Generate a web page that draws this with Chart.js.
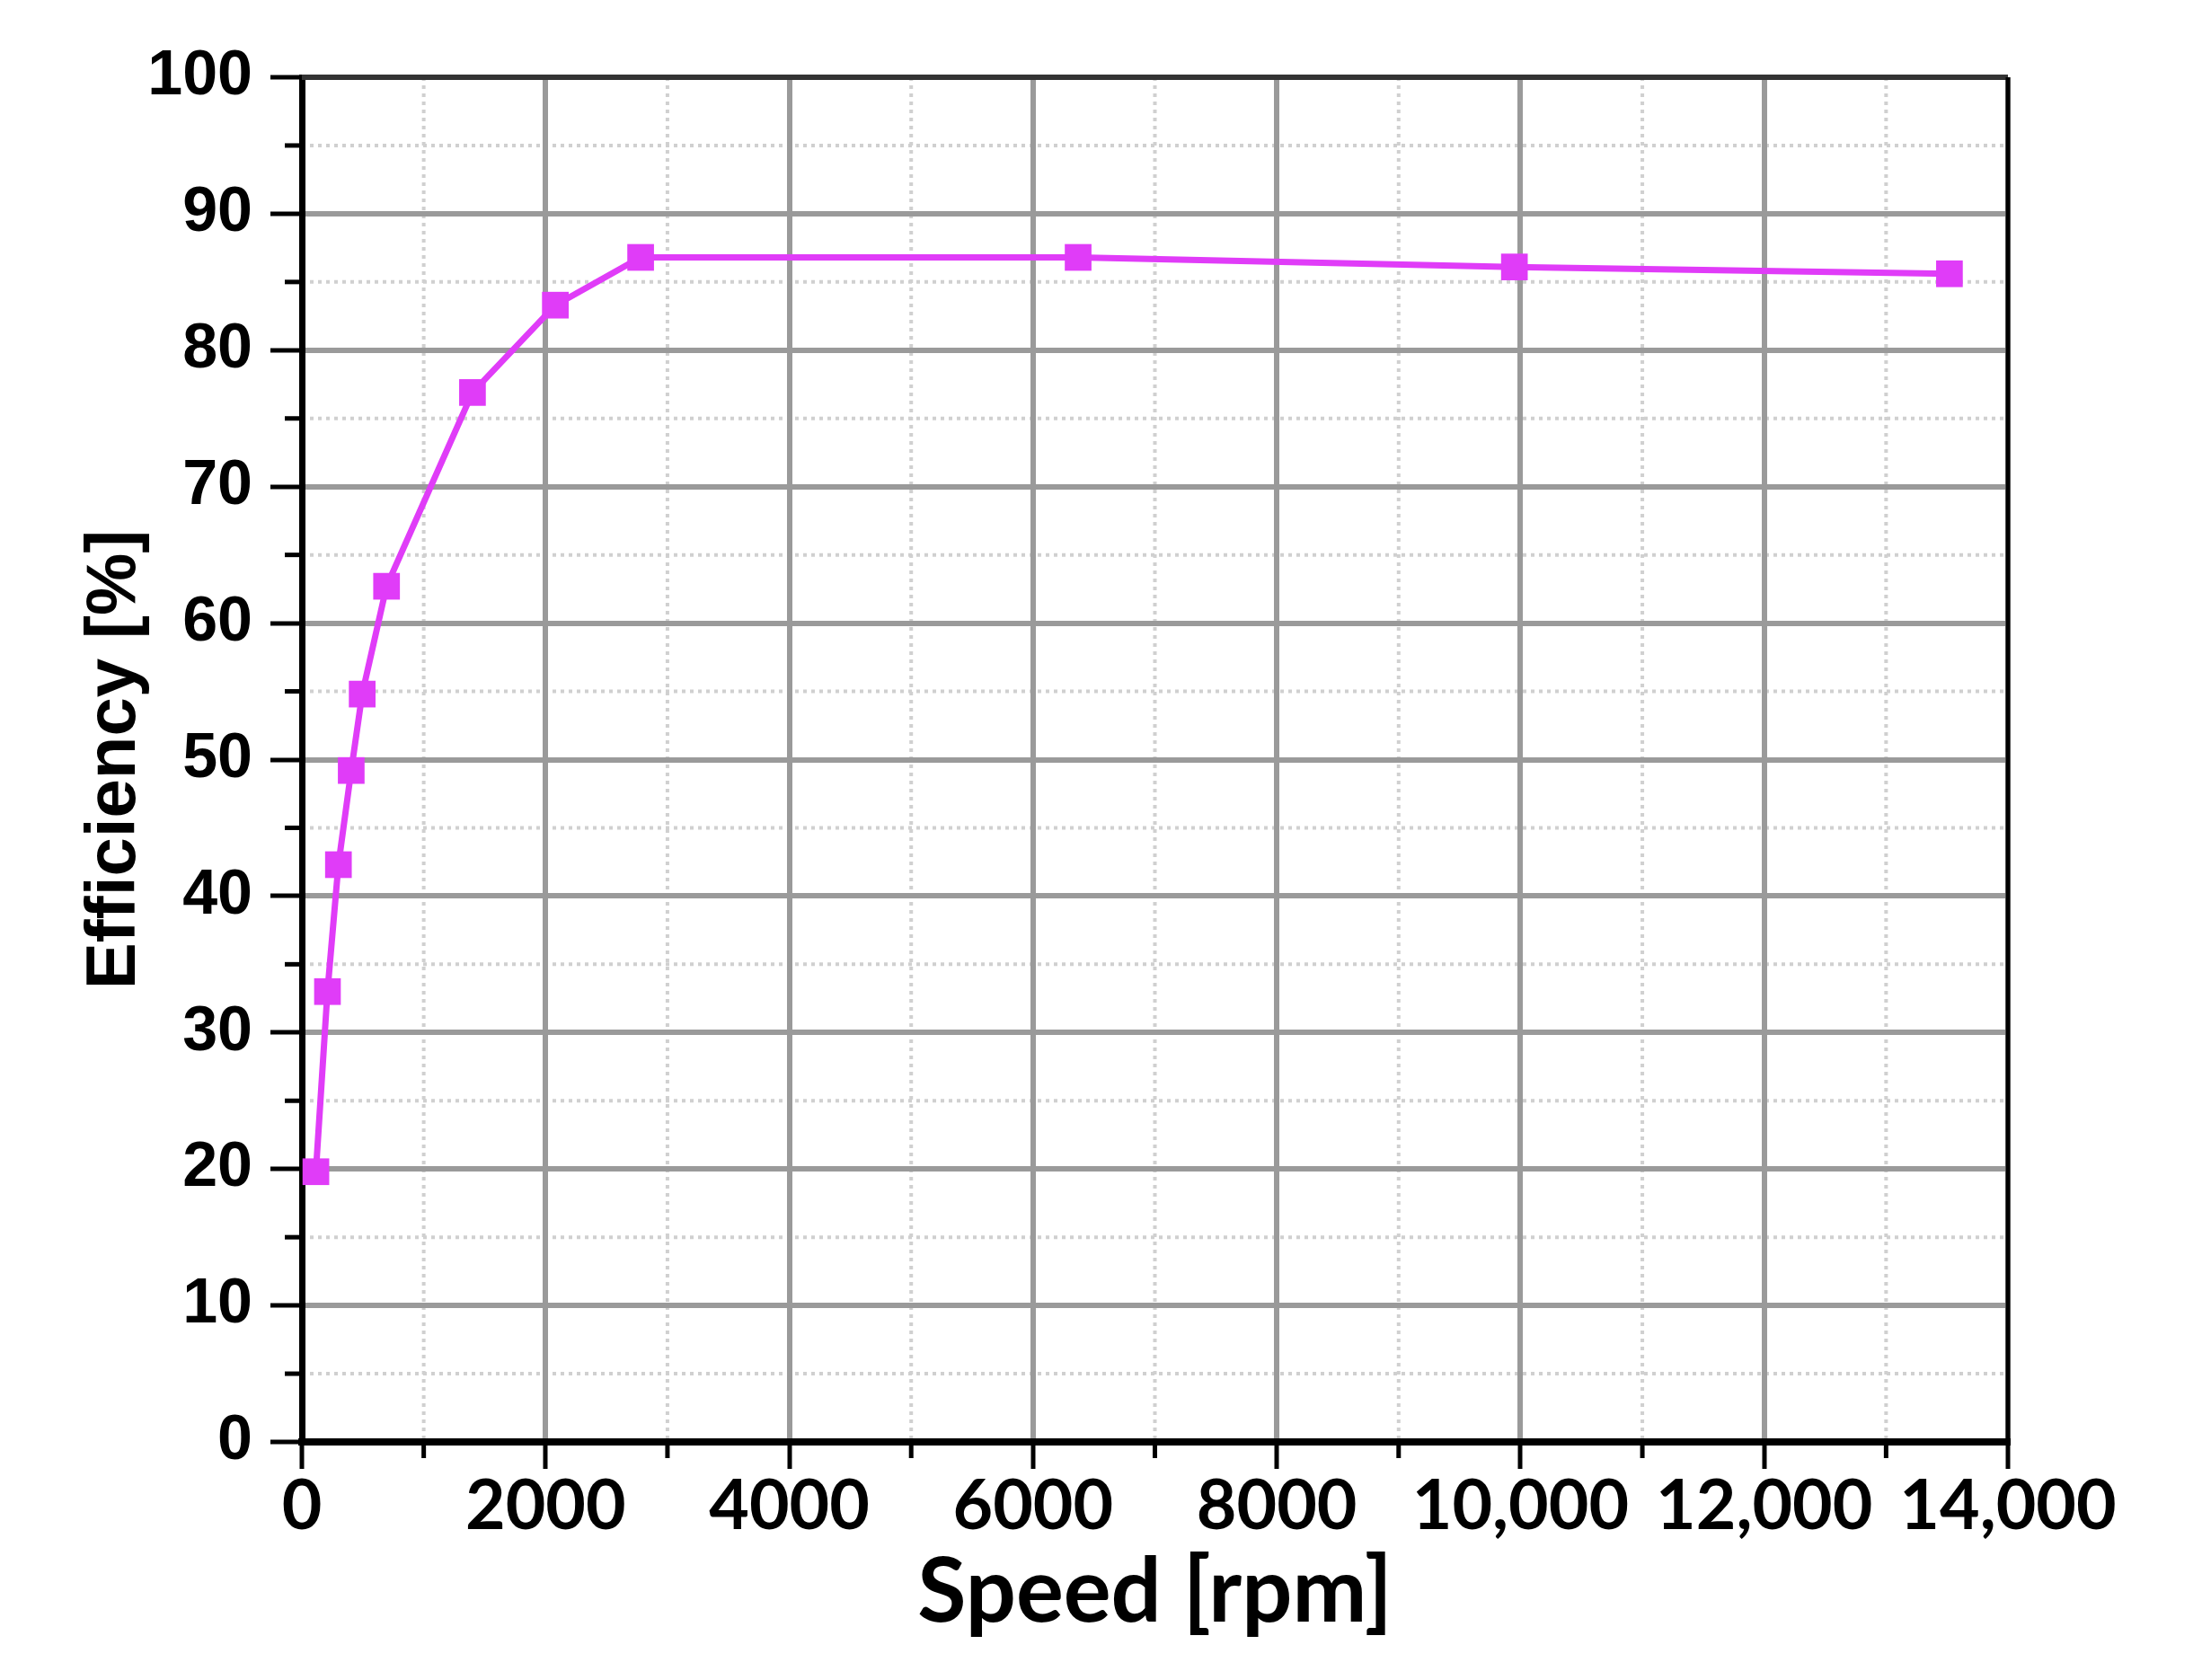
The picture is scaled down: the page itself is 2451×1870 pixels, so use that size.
<!DOCTYPE html>
<html>
<head>
<meta charset="utf-8">
<script src="https://cdn.jsdelivr.net/npm/chart.js@4"></script>
<style>
  html, body { margin: 0; padding: 0; background: #ffffff; }
  #wrap { width: 2451px; height: 1870px; position: relative; }
</style>
</head>
<body>
<div id="wrap"><canvas id="chart"></canvas></div>
<script>
// values
const speed = [115, 210, 300, 405, 495, 695, 1400, 2080, 2780, 6370, 9950, 13520];
const efficiency = [19.8, 33.0, 42.3, 49.2, 54.8, 62.7, 76.9, 83.3, 86.8, 86.8, 86.1, 85.6];
const xTickLabels = ['0', '2000', '4000', '6000', '8000', '10,000', '12,000', '14,000'];
const xMinorTicks = [1000, 3000, 5000, 7000, 9000, 11000, 13000];
const yMinorTicks = [5, 15, 25, 35, 45, 55, 65, 75, 85, 95];

const magenta = '#e03cf8';

// dotted minor grid, minor tick marks and the top/right frame
const frameAndMinor = {
    id: 'frameAndMinor',
    beforeDraw(chart) {
        const {ctx, chartArea: a, scales: {x, y}} = chart;
        ctx.save();
        ctx.strokeStyle = '#d0d0d0';
        ctx.lineWidth = 4;
        ctx.setLineDash([4, 5]);
        xMinorTicks.forEach(v => {
            const px = x.getPixelForValue(v);
            ctx.beginPath();
            ctx.moveTo(px, a.top);
            ctx.lineTo(px, a.bottom);
            ctx.stroke();
        });
        yMinorTicks.forEach(v => {
            const py = y.getPixelForValue(v);
            ctx.beginPath();
            ctx.moveTo(a.left, py);
            ctx.lineTo(a.right, py);
            ctx.stroke();
        });
        ctx.restore();
    },
    afterDraw(chart) {
        const {ctx, chartArea: a, scales: {x, y}} = chart;
        ctx.save();
        ctx.strokeStyle = '#000000';
        ctx.lineWidth = 5;
        xMinorTicks.forEach(v => {
            const px = x.getPixelForValue(v);
            ctx.beginPath();
            ctx.moveTo(px, a.bottom);
            ctx.lineTo(px, a.bottom + 18);
            ctx.stroke();
        });
        yMinorTicks.forEach(v => {
            const py = y.getPixelForValue(v);
            ctx.beginPath();
            ctx.moveTo(a.left, py);
            ctx.lineTo(a.left - 19, py);
            ctx.stroke();
        });
        ctx.strokeStyle = '#333333';
        ctx.lineWidth = 6;
        ctx.beginPath();
        ctx.moveTo(a.left, a.top);
        ctx.lineTo(a.right, a.top);
        ctx.stroke();
        ctx.strokeStyle = '#000000';
        ctx.lineWidth = 5;
        ctx.beginPath();
        ctx.moveTo(a.right, a.top);
        ctx.lineTo(a.right, a.bottom);
        ctx.stroke();
        ctx.restore();
    }
};

new Chart(document.getElementById('chart'), {
    type: 'line',
    data: {
        datasets: [
            {
                data: speed.map((s, i) => ({x: s, y: efficiency[i]})),
                borderColor: magenta,
                backgroundColor: magenta,
                borderWidth: 7,
                pointStyle: 'rect',
                pointRadius: 21,
                pointBorderWidth: 0,
                tension: 0,
            }
        ]
    },
    options: {
        responsive: true,
        maintainAspectRatio: false,
        devicePixelRatio: 1,
        animation: false,
        layout: {
            padding: {left: 0, right: 216, top: 86, bottom: 0}
        },
        plugins: {
            legend: {display: false},
            tooltip: {enabled: false}
        },
        scales: {
            x: {
                type: 'linear',
                min: 0,
                max: 14000,
                afterFit(scale) { scale.height = 265; },
                ticks: {
                    stepSize: 2000,
                    color: '#000000',
                    padding: -4,
                    maxRotation: 0,
                    font: {family: 'Lato', weight: 'bold', size: 77},
                    callback: (value, index) => xTickLabels[index]
                },
                grid: {
                    color: '#9a9a9a',
                    lineWidth: 6,
                    tickColor: '#000000',
                    tickWidth: 5,
                    tickLength: 30
                },
                border: {color: '#000000', width: 8},
                title: {
                    display: true,
                    text: 'Speed [rpm]',
                    color: '#000000',
                    font: {family: 'Lato', weight: 'bold', size: 99},
                    padding: {top: 0, bottom: 38}
                }
            },
            y: {
                min: 0,
                max: 100,
                afterFit(scale) { scale.width = 336; },
                ticks: {
                    stepSize: 10,
                    color: '#000000',
                    padding: 20,
                    font: {family: 'Liberation Sans', weight: 'bold', size: 70}
                },
                grid: {
                    color: '#9a9a9a',
                    lineWidth: 6,
                    tickColor: '#000000',
                    tickWidth: 5,
                    tickLength: 35
                },
                border: {color: '#000000', width: 7},
                title: {
                    display: true,
                    text: 'Efficiency [%]',
                    color: '#000000',
                    font: {family: 'Liberation Sans', weight: 'bold', size: 78},
                    padding: {top: 82, bottom: 0}
                }
            }
        }
    },
    plugins: [frameAndMinor]
});
</script>
</body>
</html>
